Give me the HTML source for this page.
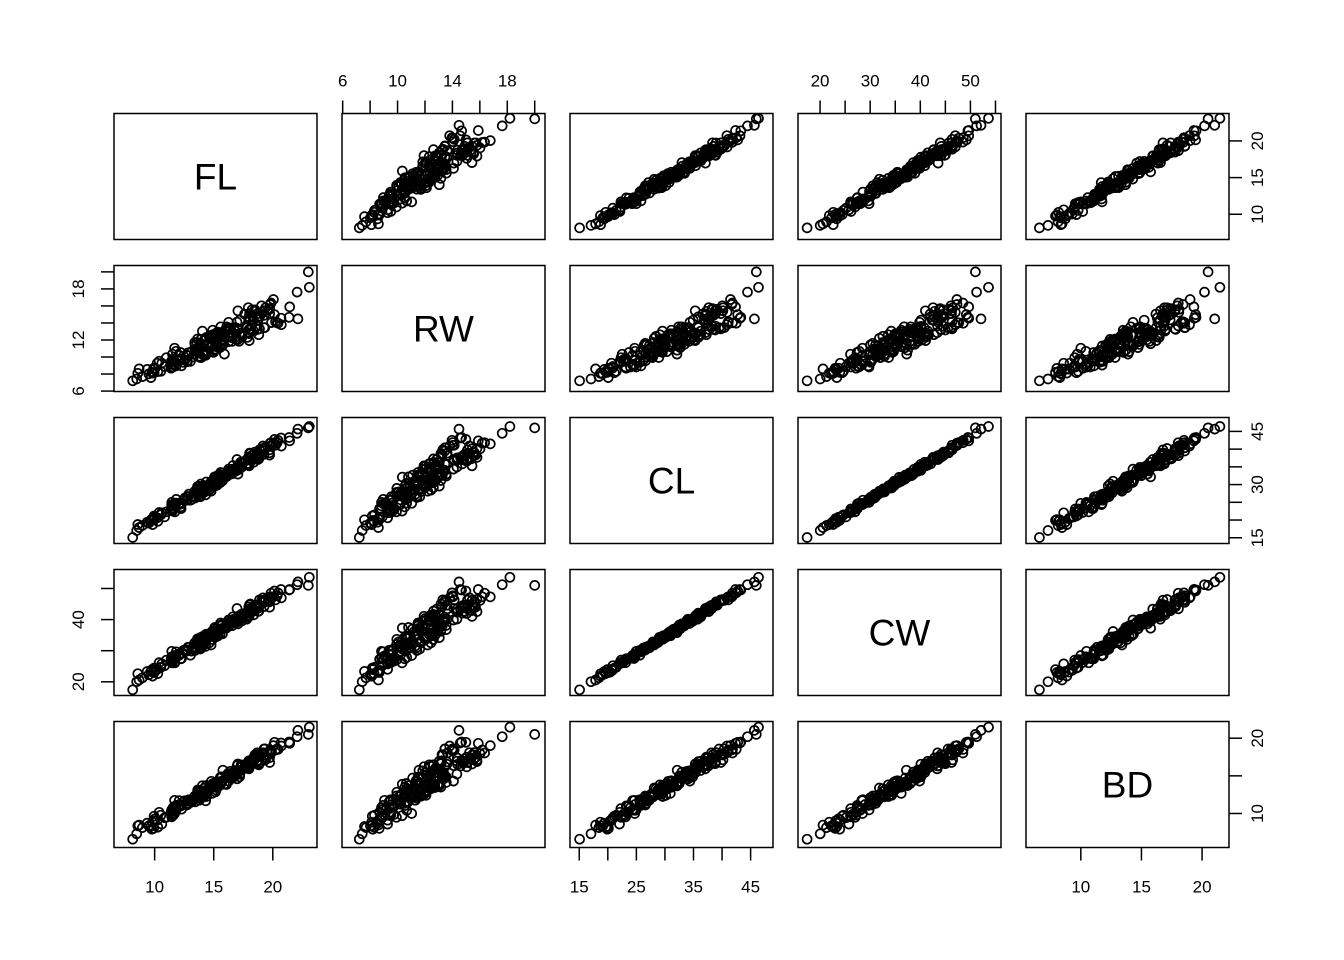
<!DOCTYPE html>
<html><head><meta charset="utf-8"><style>body{margin:0;background:#fff}svg{display:block}</style></head>
<body>
<svg id="s" width="1344" height="960" xmlns="http://www.w3.org/2000/svg" font-family="Liberation Sans, sans-serif"></svg>
<script>
var S=document.getElementById('s'),h='';
var L=[114,342,570,798,1026],T=[113.5,265.5,417.5,569.5,721.5],W=203,H=126;
var usr=[[6.56,23.74],[5.95,20.75],[13.38,48.92],[15.6,56.1],[5.48,22.22]];
var names=['FL','RW','CL','CW','BD'];
var seed=12345;function r(){seed=(seed*1103515245+12345)%2147483648;return seed/2147483648;}
function n(){return (r()+r()+r()+r()-2)*0.87;}
var D=[];
for(var k=0;k<200;k++){var s=(r()*0.6+r()*0.4);s=Math.min(1,Math.max(0,s));if(k==0)s=0;if(k==1)s=1;var g=k%2;
var fl=7.5+15.3*s+n()*0.75;
var rw=g?6.8+s*11.5+n()*0.8:6.8+s*8.8+n()*0.8;
var cl=15+32*s+n()*1.1;
var cw=cl*1.14+0.4+n()*0.9;
var bd=6.4+14.8*s+n()*0.7;
D.push([fl,rw,cl,cw,bd]);}
D.push([23,20,46,51,20.5]);
function px(j,v){return L[j]+(v-usr[j][0])/(usr[j][1]-usr[j][0])*W;}
function py(i,v){return T[i]+H-(v-usr[i][0])/(usr[i][1]-usr[i][0])*H;}
for(var i=0;i<5;i++)for(var j=0;j<5;j++){
h+='<rect x="'+L[j]+'" y="'+T[i]+'" width="'+W+'" height="'+H+'" fill="none" stroke="#000" stroke-width="1.5"/>';
if(i==j){h+='<text x="'+(L[j]+W/2)+'" y="'+(T[i]+H/2+13)+'" font-size="37" text-anchor="middle">'+names[i]+'</text>';continue;}
for(var k=0;k<D.length;k++){var x=px(j,D[k][j]),y=py(i,D[k][i]);
if(x<L[j]-1||x>L[j]+W+1||y<T[i]-1||y>T[i]+H+1)continue;
h+='<circle cx="'+x.toFixed(1)+'" cy="'+y.toFixed(1)+'" r="4.5" fill="none" stroke="#000" stroke-width="1.7"/>';}}
function ax(side,idx,ticks,labels){
 for(var t of ticks){var lab=labels.indexOf(t)>=0;
  if(side=='top'||side=='bottom'){var x=px(idx,t);var y0=side=='top'?T[0]:T[4]+H;var d=side=='top'?-13:13;
   h+='<line x1="'+x+'" x2="'+x+'" y1="'+y0+'" y2="'+(y0+d)+'" stroke="#000" stroke-width="1.5"/>';
   if(lab)h+='<text x="'+x+'" y="'+(side=='top'?y0-27:y0+45)+'" font-size="17" text-anchor="middle">'+t+'</text>';}
  else{var y=py(idx,t);var x0=side=='left'?L[0]:L[4]+W;var d=side=='left'?-13:13;
   h+='<line x1="'+x0+'" x2="'+(x0+d)+'" y1="'+y+'" y2="'+y+'" stroke="#000" stroke-width="1.5"/>';
   if(lab){var tx=side=='left'?x0-30:x0+34;h+='<text transform="translate('+tx+','+y+') rotate(-90)" font-size="17" text-anchor="middle" x="0" y="0">'+t+'</text>';}}
 }
}
ax('top',1,[6,8,10,12,14,16,18,20],[6,10,14,18]);
ax('top',3,[20,25,30,35,40,45,50,55],[20,30,40,50]);
ax('right',0,[10,15,20],[10,15,20]);
ax('right',2,[15,20,25,30,35,40,45],[15,30,45]);
ax('right',4,[10,15,20],[10,20]);
ax('left',1,[6,8,10,12,14,16,18,20],[6,12,18]);
ax('left',3,[20,30,40,50],[20,40]);
ax('bottom',0,[10,15,20],[10,15,20]);
ax('bottom',2,[15,20,25,30,35,40,45],[15,25,35,45]);
ax('bottom',4,[10,15,20],[10,15,20]);
S.innerHTML=h;
</script>
</body></html>
